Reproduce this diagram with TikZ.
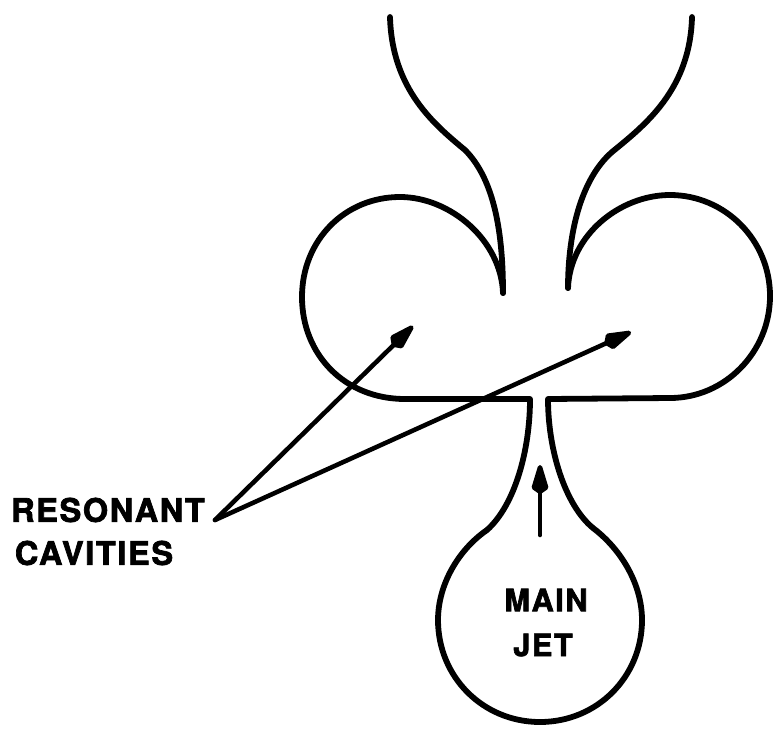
\documentclass[tikz,border=0pt]{standalone}
\usepackage{fontspec}
\setmainfont[FakeBold=2.2,BoldFeatures={FakeBold=2.2},LetterSpace=5]{TeX Gyre Heros}
\usetikzlibrary{arrows.meta}
\tikzset{wall/.style={line width=3.3pt,line cap=round,line join=round,black},
ptr/.style={line width=2.6pt,line cap=round,-{Kite[length=20pt,width=10pt,inset=3.5pt,round]}},
lab/.style={font=\bfseries\fontsize{18.5pt}{24pt}\selectfont,inner sep=0pt},
lab2/.style={font=\bfseries\fontsize{17.5pt}{24pt}\selectfont,inner sep=0pt}}
\begin{document}
\begin{tikzpicture}[x=0.02cm,y=-0.02cm]
\useasboundingbox (0,0) rectangle (773,730);
\coordinate (hub) at (215,520);
\coordinate (la) at (413,326);
\coordinate (ra) at (631,332);
\coordinate (ms) at (540,535);
\coordinate (me) at (540,465);
\coordinate (ltip) at (503,293);
\coordinate (rtip) at (568,288);
% left horn
\draw[wall] (390,17) .. controls (392,90) and (435,125) .. (465,150) .. controls (495,180) and (503,235) .. (ltip);
% right horn
\draw[wall] (692,17) .. controls (690,90) and (645,125) .. (612,152) .. controls (580,180) and (568,235) .. (rtip);
% cavities, neck and bulb
\draw[wall] (ltip) .. controls (501,240) and (450,197) .. (400,197) .. controls (345,197) and (302,240) .. (302,297) .. controls (302,355) and (345,399) .. (405,399) -- (530,399)
 .. controls (530,450) and (515,505) .. (487,530) .. controls (458,550) and (438,585) .. (438,620) .. controls (438,677) and (483,722) .. (540,722) .. controls (597,722) and (642,677) .. (642,620) .. controls (642,585) and (622,550) .. (593,528) .. controls (565,505) and (548,450) .. (548,399) -- (670,398)
 .. controls (725,398) and (770,352) .. (770,296) .. controls (770,240) and (725,195) .. (670,195) .. controls (620,195) and (570,235) .. (rtip);
\draw[ptr] (hub) -- (la);
\draw[ptr] (hub) -- (ra);
\draw[ptr] (ms) -- (me);
\node[lab] (res) at (108,510) {RESONANT};
\node[lab] (cav) at (94,553) {CAVITIES};
\node[lab2] (main) at (546,600) {MAIN};
\node[lab2] (jet) at (543,645) {JET};
\end{tikzpicture}
\end{document}
